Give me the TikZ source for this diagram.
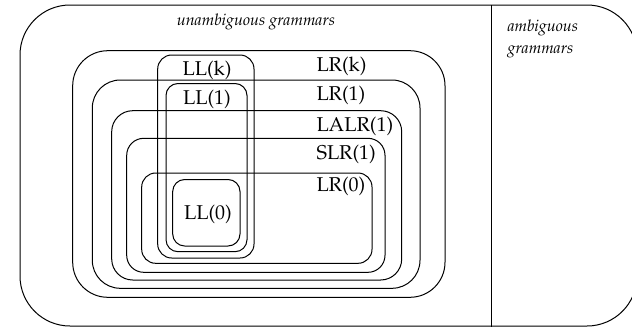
\documentclass[tikz,border=0pt]{standalone}
\usepackage[T1]{fontenc}
\usepackage{mathpazo}
\begin{document}
\begin{tikzpicture}[x=0.5pt, y=-0.5pt, line width=0.5pt,
  classbox/.style={draw, rounded corners=#1},
  lab/.style={inner sep=0pt, font=\fontsize{10}{12}\selectfont},
  lrlab/.style={lab, anchor=west},
  caption/.style={inner sep=0pt, font=\fontsize{8}{11}\selectfont\itshape}]
\useasboundingbox (0,0) rectangle (632,327);
\clip (0,0) rectangle (632,327);

% the universe of all grammars, split into unambiguous | ambiguous
\draw[classbox=25pt] (20,5) rectangle (637,326);
\coordinate (sepT) at (491,5);
\coordinate (sepB) at (491,327);
\draw (sepT) -- (sepB);
\node[caption] (unamb) at (256,21.5) {unambiguous grammars};
\node[caption, align=left, anchor=west] (amb) at (507,39) {ambiguous\\grammars};

% LR family, nested
\draw[classbox=17.5pt] (72.7,50.7) rectangle (445,297.3);
\draw[classbox=14pt]   (92.3,80)   rectangle (420,288.3);
\draw[classbox=10.5pt] (111.7,110.7) rectangle (401.7,280);
\draw[classbox=8.5pt]  (126.7,138.3) rectangle (385,272.3);
\draw[classbox=7pt]    (141.7,173)  rectangle (372,263.3);

% LL family, nested
\draw[classbox=7pt] (157.7,55)   rectangle (254,258);
\draw[classbox=6pt] (166,83.5)   rectangle (247,251.7);
\draw[classbox=6pt] (172.7,179.5) rectangle (240,246);

% class names
\node[lrlab] (lrk)  at (316,66.7)  {LR(k)};
\node[lrlab] (lr1)  at (316,95.5)  {LR(1)};
\node[lrlab] (lalr) at (316,126.5) {LALR(1)};
\node[lrlab] (slr)  at (316,154)   {SLR(1)};
\node[lrlab] (lr0)  at (316,186)   {LR(0)};
\node[lab] (llk) at (207,70)  {LL(k)};
\node[lab] (ll1) at (207,99)  {LL(1)};
\node[lab] (ll0) at (208,214) {LL(0)};
\end{tikzpicture}
\end{document}
